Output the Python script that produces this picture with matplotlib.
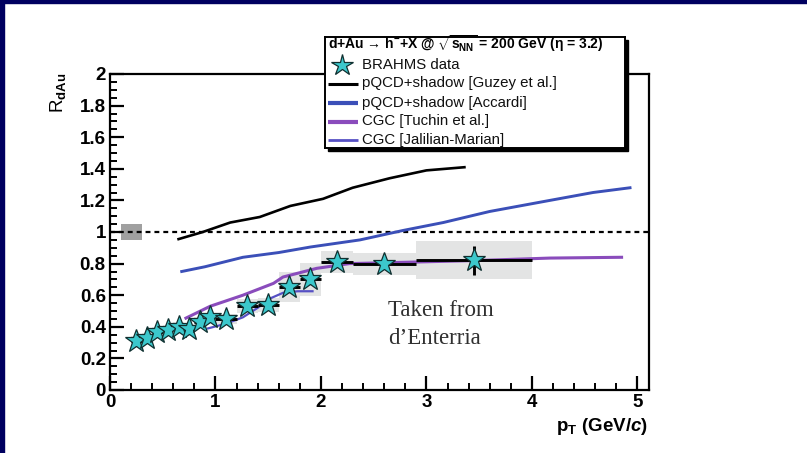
import matplotlib
matplotlib.use("Agg")
import matplotlib.pyplot as plt
from matplotlib.patches import Rectangle
from matplotlib.ticker import MultipleLocator, FormatStrFormatter

plt.rcParams['font.family'] = ['Liberation Sans', 'DejaVu Sans']
plt.rcParams['mathtext.fontset'] = 'custom'
plt.rcParams['mathtext.rm'] = 'Liberation Sans:bold'
plt.rcParams['mathtext.it'] = 'Liberation Sans:bold:italic'
plt.rcParams['mathtext.bf'] = 'Liberation Sans:bold'

# BRAHMS h- R_dAu at eta = 3.2
pt = [0.25, 0.35, 0.45, 0.55, 0.65, 0.75, 0.85, 0.95, 1.1, 1.3, 1.5, 1.7, 1.9, 2.15, 2.6, 3.45]
pt_lo = [0.2, 0.3, 0.4, 0.5, 0.6, 0.7, 0.8, 0.9, 1.0, 1.2, 1.4, 1.6, 1.8, 2.0, 2.3, 2.9]
pt_hi = [0.3, 0.4, 0.5, 0.6, 0.7, 0.8, 0.9, 1.0, 1.2, 1.4, 1.6, 1.8, 2.0, 2.3, 2.9, 4.0]
rdau = [0.31, 0.33, 0.37, 0.38, 0.40, 0.385, 0.43, 0.46, 0.45, 0.53, 0.54, 0.65, 0.70, 0.81, 0.80, 0.82]
stat = [0.02, 0.02, 0.02, 0.02, 0.02, 0.02, 0.02, 0.02, 0.02, 0.02, 0.02, 0.03, 0.03, 0.02, 0.03, 0.09]
syst = [0.03, 0.03, 0.03, 0.03, 0.03, 0.03, 0.03, 0.03, 0.03, 0.045, 0.045, 0.095, 0.105, 0.07, 0.07, 0.12]

# theory curves
guzey_pt = [0.65, 0.88, 1.14, 1.42, 1.71, 2.02, 2.30, 2.65, 3.0, 3.36]
guzey_r = [0.955, 1.0, 1.06, 1.095, 1.165, 1.21, 1.28, 1.34, 1.39, 1.41]
accardi_pt = [0.68, 0.9, 1.26, 1.6, 1.9, 2.37, 2.78, 3.16, 3.6, 4.17, 4.58, 4.93]
accardi_r = [0.75, 0.78, 0.84, 0.87, 0.905, 0.95, 1.01, 1.06, 1.13, 1.2, 1.25, 1.28]
tuchin_pt = [0.72, 0.95, 1.26, 1.55, 1.64, 1.96, 2.27, 2.9, 3.5, 4.17, 4.85]
tuchin_r = [0.455, 0.53, 0.60, 0.675, 0.715, 0.77, 0.80, 0.81, 0.82, 0.835, 0.84]
jm_pt = [0.93, 1.1, 1.26, 1.4, 1.52, 1.64, 1.78, 1.92]
jm_r = [0.39, 0.42, 0.46, 0.52, 0.58, 0.615, 0.625, 0.625]

# normalisation uncertainty band at unity
norm_x = [0.1, 0.3]
norm_y = [0.95, 1.05]

c_guzey = '#000000'
c_accardi = '#3b4fb8'
c_tuchin = '#8a4cbc'
c_jm = '#5650c4'
c_star = '#3cc8cc'

W, H = 807, 453
fig = plt.figure(figsize=(W / 100, H / 100), dpi=100)
fig.patch.set_facecolor('white')

# slide border strips
fig.patches.append(Rectangle((0, 0), 4 / W, 1, transform=fig.transFigure, color='#000060', zorder=0))
fig.patches.append(Rectangle((0, 1 - 3 / H), 1, 3 / H, transform=fig.transFigure, color='#000060', zorder=0))

ax = fig.add_axes([110 / W, (H - 390) / H, 539 / W, 316 / H])
ax.set_xlim(0, 5.11)
ax.set_ylim(0, 2)

# systematic boxes
for lo, hi, r, s in zip(pt_lo, pt_hi, rdau, syst):
    ax.add_patch(Rectangle((lo, r - s), hi - lo, 2 * s, facecolor='#e3e4e4', edgecolor='none', zorder=1))
ax.add_patch(Rectangle((norm_x[0], norm_y[0]), norm_x[1] - norm_x[0], norm_y[1] - norm_y[0],
                       facecolor='#a0a0a0', edgecolor='none', zorder=2))

ax.axhline(1.0, color='black', lw=1.6, ls=(0, (2.2, 1.8)), zorder=2)

ax.plot(guzey_pt, guzey_r, color=c_guzey, lw=1.9, zorder=3)
ax.plot(accardi_pt, accardi_r, color=c_accardi, lw=2.1, zorder=3)
ax.plot(tuchin_pt, tuchin_r, color=c_tuchin, lw=2.2, zorder=3)
ax.plot(jm_pt, jm_r, color=c_jm, lw=1.6, zorder=3)

xerr = [[p - lo for p, lo in zip(pt, pt_lo)], [hi - p for p, hi in zip(pt, pt_hi)]]
ax.errorbar(pt, rdau, xerr=xerr, yerr=stat, fmt='none', ecolor='black', elinewidth=2.1, capsize=0, zorder=4)
ax.plot(pt, rdau, ls='none', marker='*', ms=17, mfc=c_star, mec='#103030', mew=0.9, zorder=5)

# axes styling
for sp in ax.spines.values():
    sp.set_linewidth(1.6)
ax.xaxis.set_major_locator(MultipleLocator(1))
ax.xaxis.set_minor_locator(MultipleLocator(0.2))
ax.yaxis.set_major_locator(MultipleLocator(0.2))
ax.yaxis.set_minor_locator(MultipleLocator(0.05))
ax.yaxis.set_major_formatter(FormatStrFormatter('%g'))
ax.xaxis.set_major_formatter(FormatStrFormatter('%g'))
ax.tick_params(which='both', direction='in', top=False, right=False)
ax.tick_params(which='major', length=10, width=1.6, labelsize=13.5, pad=3)
ax.tick_params(which='minor', length=5, width=1.4)
for lab in ax.get_xticklabels() + ax.get_yticklabels():
    lab.set_fontweight('bold')

fig.text(58 / W, 1 - 73 / H, r'R$_{\rm dAu}$', rotation=90, ha='center', va='top', fontsize=13.5)
fig.text(648 / W, 1 - 431 / H, r'p$_{\rm T}$ (GeV/$c$)', ha='right', va='baseline', fontsize=13.5,
         fontweight='bold')

fig.text(388 / W, 1 - 316 / H, 'Taken from', family=['Liberation Serif'], fontsize=16.5,
         color='#303030', va='baseline')
fig.text(388 / W, 1 - 344 / H, 'd\u2019Enterria', family=['Liberation Serif'], fontsize=16.5,
         color='#303030', va='baseline')

# legend panel with drop shadow
lx0, ly0, lx1, ly1 = 325, 37, 625, 148
fig.patches.append(Rectangle(((lx0 + 3) / W, 1 - (ly1 + 3) / H), (lx1 - lx0) / W, (ly1 - ly0) / H,
                             transform=fig.transFigure, color='black', zorder=8))
lg = fig.add_axes([lx0 / W, 1 - ly1 / H, (lx1 - lx0) / W, (ly1 - ly0) / H], zorder=9)
lg.set_xlim(0, lx1 - lx0)
lg.set_ylim(ly1 - ly0, 0)
lg.set_xticks([])
lg.set_yticks([])
for sp in lg.spines.values():
    sp.set_linewidth(1.4)

lg.text(3, 7, 'd+Au \u2192 h$^{-}$+X @ $\\sqrt{\\rm s_{NN}}$ = 200 GeV (\u03b7 = 3.2)',
        fontsize=10, fontweight='bold', va='center', ha='left')
entries = [
    ('BRAHMS data', None, None),
    ('pQCD+shadow [Guzey et al.]', c_guzey, 2.2),
    ('pQCD+shadow [Accardi]', c_accardi, 3.0),
    ('CGC [Tuchin et al.]', c_tuchin, 3.0),
    ('CGC [Jalilian-Marian]', c_jm, 2.0),
]
rows = [28, 46.5, 65.5, 84.5, 103]
for (name, col, lw), yy in zip(entries, rows):
    if col is None:
        lg.plot([17], [yy], ls='none', marker='*', ms=16, mfc=c_star, mec='#103030', mew=0.9)
    else:
        lg.plot([3, 33], [yy, yy], color=col, lw=lw, solid_capstyle='butt')
    lg.text(37, yy, name, fontsize=10.8, va='center', ha='left', color='#111111')

fig.savefig('out.png', dpi=100)
